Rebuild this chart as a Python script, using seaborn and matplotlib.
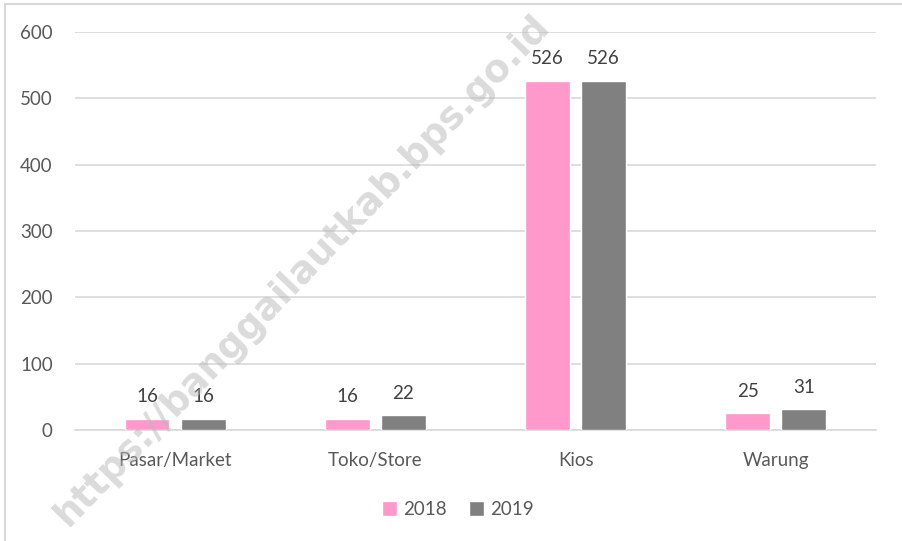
import matplotlib
matplotlib.use('Agg')
import matplotlib.pyplot as plt
import pandas as pd
import seaborn as sns
from matplotlib.patches import Rectangle

categories = ['Pasar/Market', 'Toko/Store', 'Kios', 'Warung']
years = ['2018', '2019']
val_2018 = [16, 16, 526, 25]
val_2019 = [16, 22, 526, 31]
yticks = [0, 100, 200, 300, 400, 500, 600]

df = pd.DataFrame({
    'Kategori': categories * 2,
    'Tahun': [years[0]] * len(categories) + [years[1]] * len(categories),
    'Jumlah': val_2018 + val_2019,
})

sns.set_theme(style='white')
plt.rcParams['font.family'] = ['Lato', 'DejaVu Sans']

fig = plt.figure(figsize=(9.02, 5.41), dpi=100)
ax = fig.add_axes([0.0831, 0.2052, 0.888, 0.7357])

sns.barplot(data=df, x='Kategori', y='Jumlah', hue='Tahun',
            palette=['#FF99CC', '#808080'], width=0.56, gap=0.2,
            saturation=1, ax=ax, zorder=3)

for c in ax.containers:
    ax.bar_label(c, padding=10, fontsize=13.5, color='#404040')

ax.set_xlim(-0.5, 3.5)
ax.set_ylim(0, 600)
ax.set_yticks(yticks)
ax.yaxis.grid(True, color='#d9d9d9', lw=1.2, zorder=0)
ax.set_axisbelow(True)
for s in ['left', 'right', 'top']:
    ax.spines[s].set_visible(False)
ax.spines['bottom'].set_color('#d9d9d9')
ax.spines['bottom'].set_linewidth(1.2)
ax.tick_params(axis='both', length=0, labelsize=13.5, labelcolor='#595959')
ax.tick_params(axis='x', pad=16)
ax.tick_params(axis='y', pad=16)
ax.set_xlabel('')
ax.set_ylabel('')

leg = ax.legend(loc='center', bbox_to_anchor=(0.478, -0.2), ncol=2, frameon=False,
                fontsize=13.5, handlelength=0.8, handleheight=0.8, handletextpad=0.3,
                columnspacing=1.2)
for t in leg.get_texts():
    t.set_color('#595959')

# outer frame of the chart
fig.patches.append(Rectangle((0.005, -0.05), 1.1, 1.043, transform=fig.transFigure,
                             fill=False, edgecolor='#d9d9d9', lw=1.5))

# watermark
fig.text(0.335, 0.5, 'https://banggailautkab.bps.go.id', rotation=46,
         ha='center', va='center', fontsize=27, fontweight='bold',
         family='DejaVu Sans', color='#b8b8b8', alpha=0.5, zorder=10)

fig.savefig('out.png', dpi=100)
